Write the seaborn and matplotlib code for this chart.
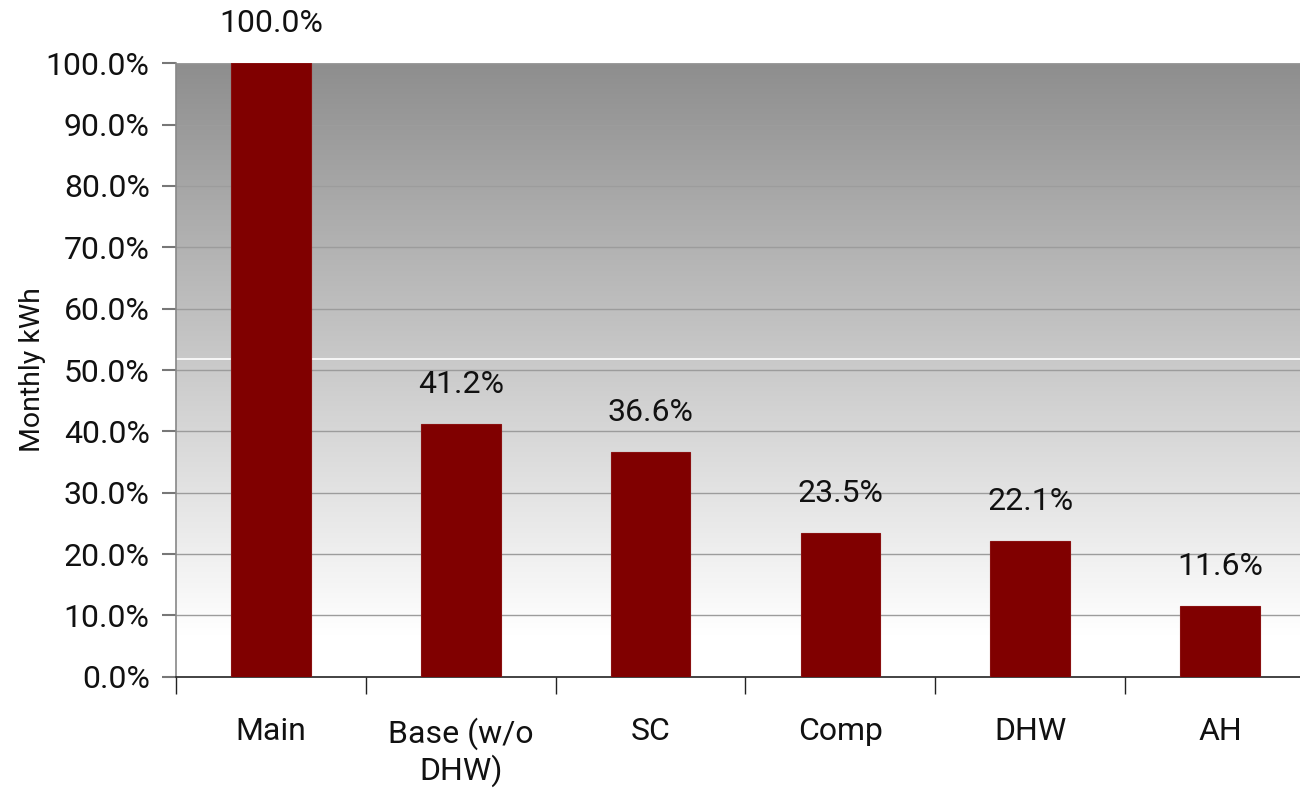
import numpy as np
import pandas as pd
import matplotlib
matplotlib.use("Agg")
import matplotlib.pyplot as plt
import seaborn as sns

# Monthly energy share by circuit
categories = ["Main", "Base (w/o\nDHW)", "SC", "Comp", "DHW", "AH"]
shares = [100.0, 41.2, 36.6, 23.5, 22.1, 11.6]
y_ticks = [0, 10, 20, 30, 40, 50, 60, 70, 80, 90, 100]

df = pd.DataFrame({"circuit": categories, "share": shares})

sns.set_theme(style="white")
plt.rcParams["font.family"] = ["Roboto", "DejaVu Sans"]

fig = plt.figure(figsize=(13, 8), dpi=100)
ax = fig.add_axes([0.1354, 0.154, 1.0115 - 0.1354, 0.767])

# vertical gray-to-white background gradient
grad = np.linspace(0.0, 1.0, 256).reshape(-1, 1)
cmap = matplotlib.colors.LinearSegmentedColormap.from_list(
    "bg", [(0.0, "#ffffff"), (0.07, "#ffffff"), (1.0, "#8e8e8e")])
ax.imshow(grad, extent=[-0.5, 5.5, 0, 100], origin="lower", aspect="auto",
          cmap=cmap, zorder=0)

for v in y_ticks[1:]:
    ax.axhline(v, color="#9c9c9c", lw=1.0, zorder=1)
ax.axhline(51.8, color="white", lw=1.2, zorder=1)

sns.barplot(data=df, x="circuit", y="share", color="#800000", width=0.42,
            saturation=1, ax=ax, zorder=3, edgecolor="#8a1010", linewidth=0.8)

for i, v in enumerate(shares):
    ax.annotate(f"{v:.1f}%", (i, v), xytext=(0, 18), textcoords="offset points",
                ha="center", va="bottom", fontsize=23, color="#111111",
                annotation_clip=False)

ax.set_xlim(-0.5, 5.5)
ax.set_ylim(0, 100)
ax.set_yticks(y_ticks)
ax.set_yticklabels([f"{v:.1f}%" for v in y_ticks], fontsize=23, color="#111111")
ax.set_xticks(np.arange(-0.5, 6.0, 1.0))
ax.set_xticklabels([])
ax.set_xticks(np.arange(len(categories)), minor=True)
ax.set_xticklabels(categories, minor=True, fontsize=23, color="#111111",
                   linespacing=1.2, va="top")
ax.tick_params(axis="x", which="minor", length=0, pad=29)
ax.tick_params(axis="x", which="major", length=12, width=1, color="#222222",
               direction="out", bottom=True)
ax.tick_params(axis="y", length=10, width=1.5, color="#777777", direction="out",
               left=True, pad=9)

ax.set_xlabel("")
ax.set_ylabel("Monthly kWh", fontsize=20.5, color="#111111")
ax.yaxis.label.set_va("center")
ax.yaxis.set_label_coords(-0.126, 0.5)

for side in ["top", "right"]:
    ax.spines[side].set_visible(False)
ax.spines["left"].set_color("#888888")
ax.spines["left"].set_linewidth(1.2)
ax.spines["bottom"].set_color("#222222")
ax.spines["bottom"].set_linewidth(1.2)

fig.savefig("out.png", dpi=100, facecolor="white")
